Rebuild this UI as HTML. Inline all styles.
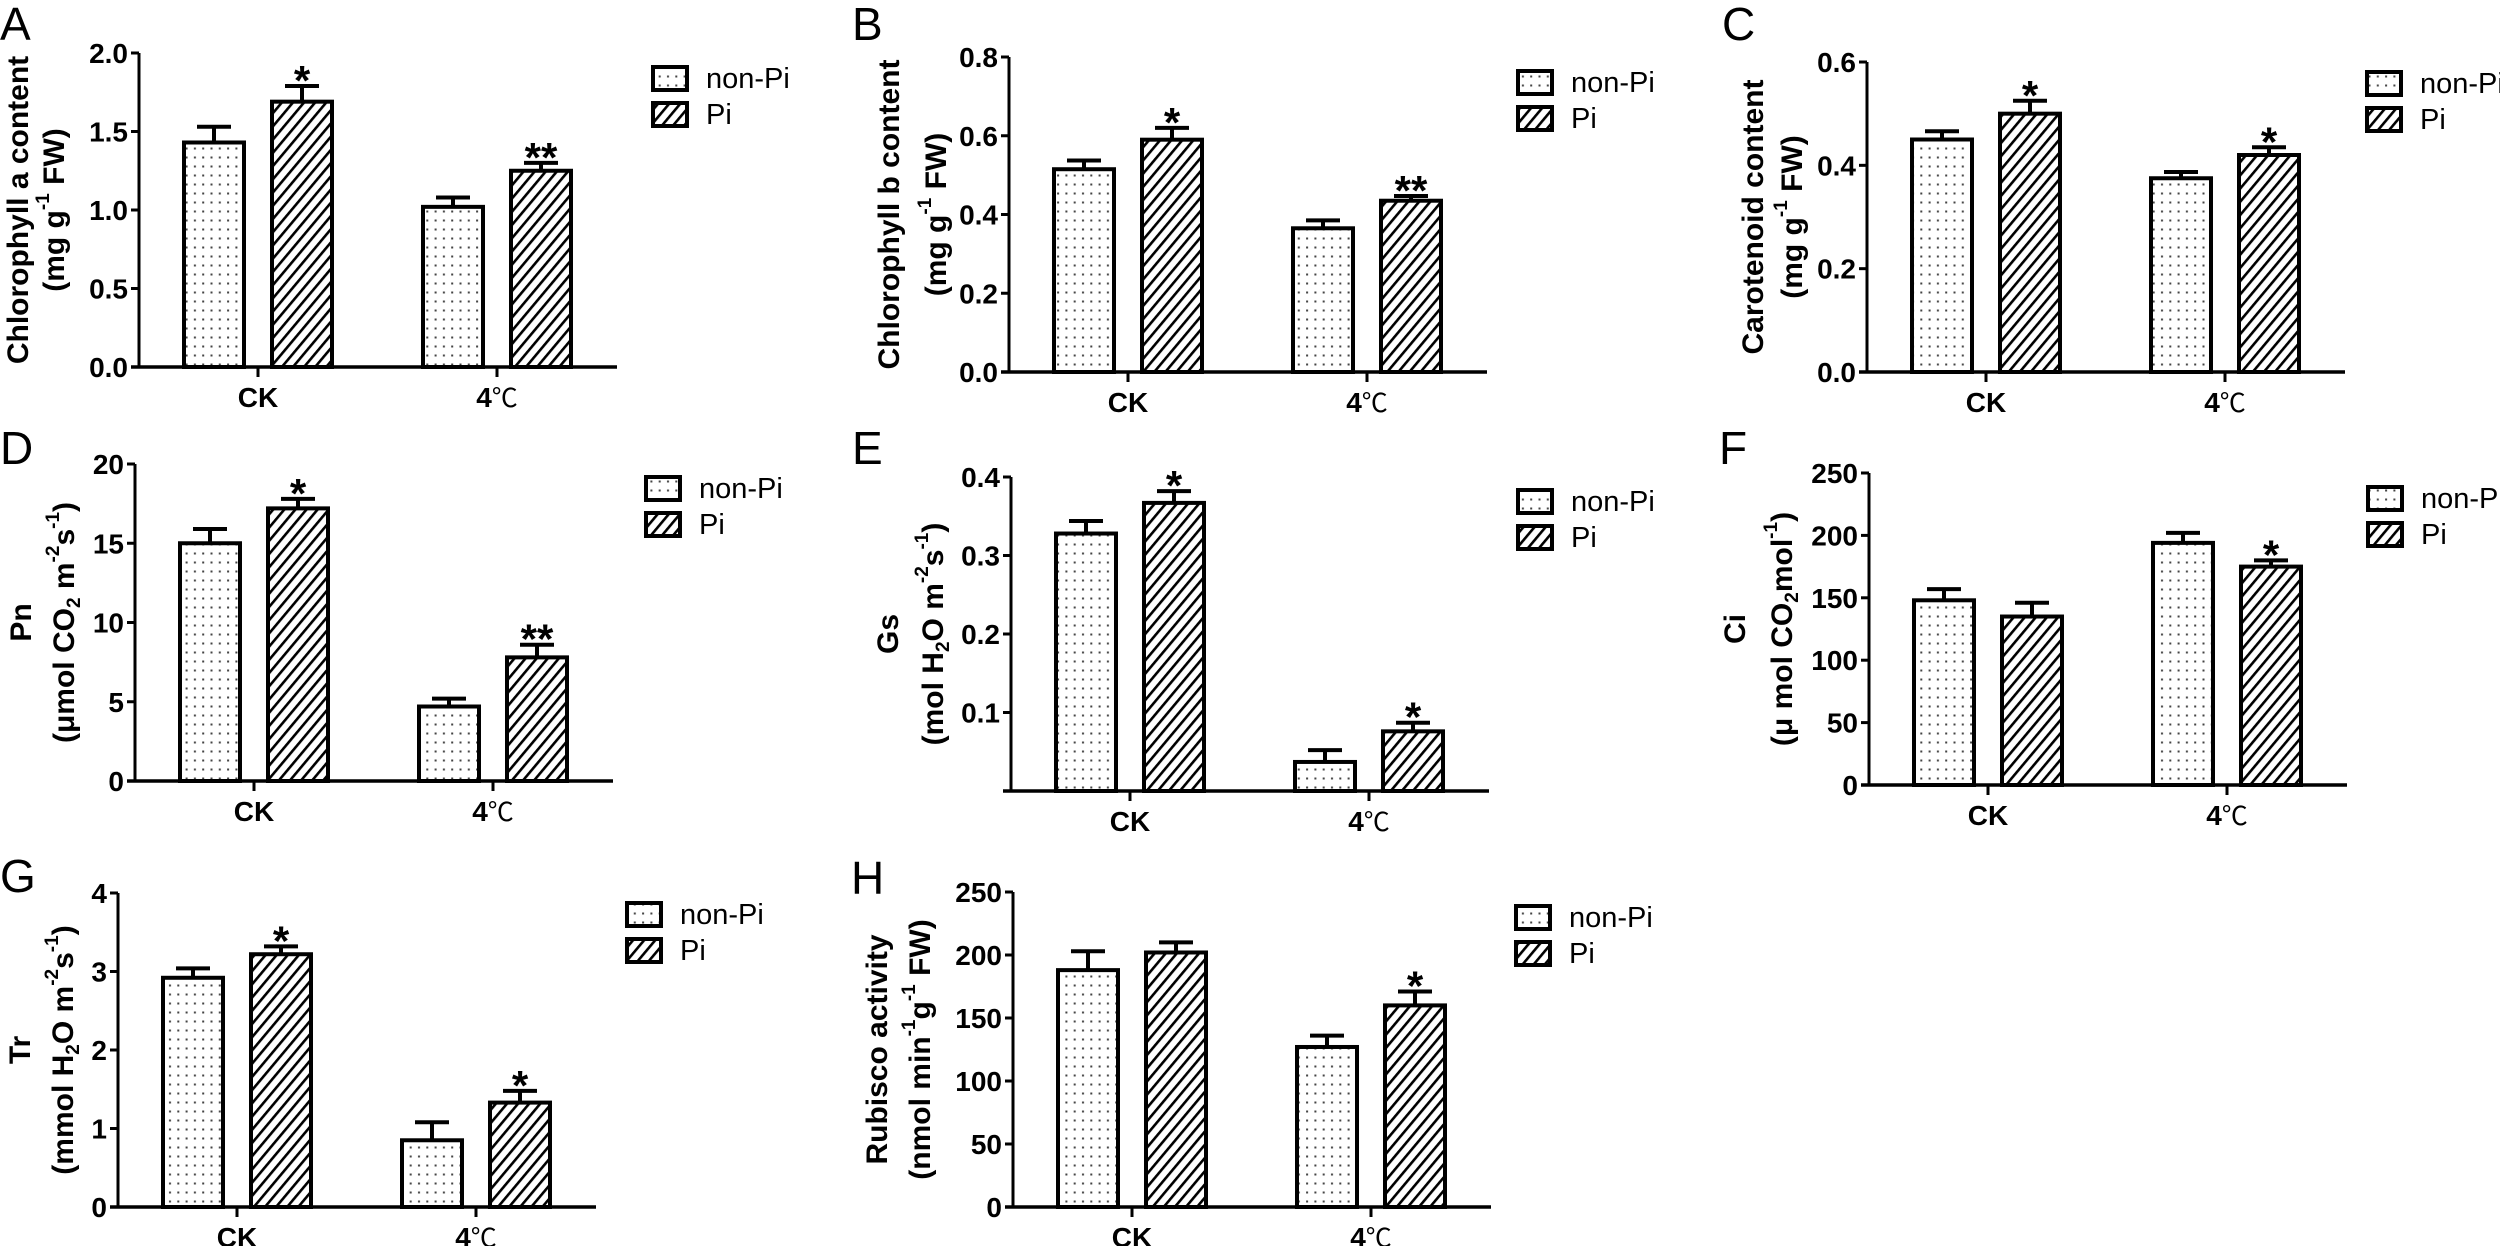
<!DOCTYPE html>
<html><head><meta charset="utf-8">
<style>
html,body{margin:0;padding:0;background:#fff;}
svg{display:block;}
text{font-family:"Liberation Sans","Noto Sans CJK SC",sans-serif;fill:#000;}
</style></head>
<body>
<svg id="fig" width="2500" height="1246" viewBox="0 0 2500 1246" xmlns="http://www.w3.org/2000/svg">
<defs>
<pattern id="dots" patternUnits="userSpaceOnUse" width="8.3" height="9">
<rect x="3" y="3.5" width="2" height="2" fill="#444"/>
</pattern>
<pattern id="hatch" patternUnits="userSpaceOnUse" width="8.5" height="20" patternTransform="rotate(40)">
<rect x="0" y="0" width="2.6" height="20" fill="#000"/>
</pattern>
</defs>
</svg>
<script>
// ---- data ----
const categories = ["CK", "4℃"];
const seriesNames = ["non-Pi", "Pi"];
const chlAValues = [[1.43, 1.02], [1.69, 1.25]];
const chlAErrors = [[0.10, 0.06], [0.10, 0.05]];
const chlASig = [["", ""], ["*", "**"]];
const chlBValues = [[0.515, 0.365], [0.59, 0.435]];
const chlBErrors = [[0.022, 0.02], [0.03, 0.012]];
const chlBSig = [["", ""], ["*", "**"]];
const carValues = [[0.45, 0.375], [0.50, 0.42]];
const carErrors = [[0.016, 0.012], [0.025, 0.015]];
const carSig = [["", ""], ["*", "*"]];
const pnValues = [[15.0, 4.7], [17.2, 7.8]];
const pnErrors = [[0.9, 0.5], [0.6, 0.8]];
const pnSig = [["", ""], ["*", "**"]];
const gsValues = [[0.328, 0.037], [0.367, 0.076]];
const gsErrors = [[0.016, 0.015], [0.015, 0.011]];
const gsSig = [["", ""], ["*", "*"]];
const ciValues = [[148, 194], [135, 175]];
const ciErrors = [[9, 8], [11, 5]];
const ciSig = [["", ""], ["", "*"]];
const trValues = [[2.92, 0.85], [3.22, 1.33]];
const trErrors = [[0.12, 0.23], [0.10, 0.15]];
const trSig = [["", ""], ["*", "*"]];
const rubValues = [[188, 127], [202, 160]];
const rubErrors = [[15, 9], [8, 11]];
const rubSig = [["", ""], ["", "*"]];
const ticksA = [0, 0.5, 1.0, 1.5, 2.0];
const tickLabelsA = ["0.0", "0.5", "1.0", "1.5", "2.0"];
const ticksB = [0, 0.2, 0.4, 0.6, 0.8];
const tickLabelsB = ["0.0", "0.2", "0.4", "0.6", "0.8"];
const ticksC = [0, 0.2, 0.4, 0.6];
const tickLabelsC = ["0.0", "0.2", "0.4", "0.6"];
const ticksD = [0, 5, 10, 15, 20];
const tickLabelsD = ["0", "5", "10", "15", "20"];
const ticksE = [0.1, 0.2, 0.3, 0.4];
const tickLabelsE = ["0.1", "0.2", "0.3", "0.4"];
const ticksF = [0, 50, 100, 150, 200, 250];
const tickLabelsF = ["0", "50", "100", "150", "200", "250"];
const ticksG = [0, 1, 2, 3, 4];
const tickLabelsG = ["0", "1", "2", "3", "4"];
const ticksH = [0, 50, 100, 150, 200, 250];
const tickLabelsH = ["0", "50", "100", "150", "200", "250"];

const NS = "http://www.w3.org/2000/svg";
const svg = document.getElementById("fig");
function mk(tag, attrs, parent) {
  const e = document.createElementNS(NS, tag);
  for (const k in attrs) e.setAttribute(k, attrs[k]);
  (parent || svg).appendChild(e);
  return e;
}

const panels = [
  {id:"a", letter:"A", lx:0, ly:40, ax:139, yTop:53, y0:367, max:2.0, ticks:ticksA, tl:tickLabelsA, vals:chlAValues, errs:chlAErrors, sig:chlASig, legX:653, legY:67, t1x:18, t2x:54,
   t1:[["Chlorophyll a content"]], t2:[["(mg g"],["-1","sup"],[" FW)"]]},
  {id:"b", letter:"B", lx:852, ly:40, ax:1009, yTop:57, y0:372, max:0.8, ticks:ticksB, tl:tickLabelsB, vals:chlBValues, errs:chlBErrors, sig:chlBSig, legX:1518, legY:71, t1x:889, t2x:936,
   t1:[["Chlorophyll b content"]], t2:[["(mg g"],["-1","sup"],[" FW)"]]},
  {id:"c", letter:"C", lx:1722, ly:40, ax:1867, yTop:62, y0:372, max:0.6, ticks:ticksC, tl:tickLabelsC, vals:carValues, errs:carErrors, sig:carSig, legX:2367, legY:72, t1x:1753, t2x:1792,
   t1:[["Carotenoid content"]], t2:[["(mg g"],["-1","sup"],[" FW)"]]},
  {id:"d", letter:"D", lx:0, ly:464, ax:135, yTop:464, y0:781, max:20, ticks:ticksD, tl:tickLabelsD, vals:pnValues, errs:pnErrors, sig:pnSig, legX:646, legY:477, t1x:21, t2x:64,
   t1:[["Pn"]], t2:[["(μmol CO"],["2","sub"],[" m"],["-2","sup"],["s"],["-1","sup"],[")"]]},
  {id:"e", letter:"E", lx:852, ly:464, ax:1011, yTop:477, y0:791, max:0.4, ticks:ticksE, tl:tickLabelsE, vals:gsValues, errs:gsErrors, sig:gsSig, legX:1518, legY:490, t1x:888, t2x:933,
   t1:[["Gs"]], t2:[["(mol H"],["2","sub"],["O m"],["-2","sup"],["s"],["-1","sup"],[")"]]},
  {id:"f", letter:"F", lx:1719, ly:464, ax:1869, yTop:473, y0:785, max:250, ticks:ticksF, tl:tickLabelsF, vals:ciValues, errs:ciErrors, sig:ciSig, legX:2368, legY:487, t1x:1735, t2x:1782,
   t1:[["Ci"]], t2:[["(μ mol CO"],["2","sub"],["mol"],["-1","sup"],[")"]]},
  {id:"g", letter:"G", lx:0, ly:892, ax:118, yTop:893, y0:1207, max:4, ticks:ticksG, tl:tickLabelsG, vals:trValues, errs:trErrors, sig:trSig, legX:627, legY:903, t1x:20, t2x:63,
   t1:[["Tr"]], t2:[["(mmol H"],["2","sub"],["O m"],["-2","sup"],["s"],["-1","sup"],[")"]]},
  {id:"h", letter:"H", lx:851, ly:894, ax:1013, yTop:892, y0:1207, max:250, ticks:ticksH, tl:tickLabelsH, vals:rubValues, errs:rubErrors, sig:rubSig, legX:1516, legY:906, t1x:877, t2x:920,
   t1:[["Rubisco activity"]], t2:[["(nmol  min"],["-1","sup"],["g"],["-1","sup"],[" FW)"]]}
];

function addTitle(g, x, cy, parts) {
  const t = mk("text", {transform:"translate(" + x + "," + cy + ") rotate(-90)", "text-anchor":"middle", "dominant-baseline":"central", "font-size":"30", "font-weight":"bold"}, g);
  
  
  parts.forEach(p => {
    const s = mk("tspan", {}, t);
    s.textContent = p[0];
    if (p[1] === "sup") { s.setAttribute("font-size", "19"); s.setAttribute("baseline-shift", "super"); }
    if (p[1] === "sub") { s.setAttribute("font-size", "19"); s.setAttribute("baseline-shift", "sub"); }
  });
}

panels.forEach(p => {
  const g = mk("g", {});
  
  
  const yS = v => p.y0 - (v / p.max) * (p.y0 - p.yTop);
  const xEnd = p.ax + 478;
  const catX = i => p.ax + 119 + i * 239;
  const barOff = s => (s === 0 ? -44 : 44);
  const barW = 60;

  const L = mk("text", {x:p.lx, y:p.ly, "font-size":"46"}, g);
  L.textContent = p.letter;
  
  

  p.vals.forEach((series, s) => {
    series.forEach((v, i) => {
      const cx = catX(i) + barOff(s);
      const top = yS(v);
      const r = mk("rect", {x:cx - barW/2, y:top, width:barW, height:p.y0 - top, fill:s === 0 ? "url(#dots)" : "url(#hatch)", stroke:"#000", "stroke-width":"4"}, g);
      
      
      const et = yS(v + p.errs[s][i]);
      const eb = mk("path", {d:"M" + cx + " " + top + " V" + et + " M" + (cx - 17) + " " + et + " H" + (cx + 17), stroke:"#000", "stroke-width":"4", fill:"none"}, g);
      
      
      if (p.sig[s][i]) {
        const st = mk("text", {x:cx, y:et + 9, "text-anchor":"middle", "font-size":"42", "font-weight":"bold"}, g);
        st.textContent = p.sig[s][i];
        
        
      }
    });
  });

  const ya = mk("path", {d:"M" + p.ax + " " + p.yTop + " V" + p.y0, stroke:"#000", "stroke-width":"3", fill:"none"}, g);
  
  
  const xa = mk("path", {d:"M" + (p.ax - 8) + " " + p.y0 + " H" + xEnd, stroke:"#000", "stroke-width":"3.5", fill:"none"}, g);
  
  
  p.ticks.forEach((t, k) => {
    const y = yS(t);
    const tk = mk("path", {d:"M" + (p.ax - 8) + " " + y + " H" + p.ax, stroke:"#000", "stroke-width":"3", fill:"none"}, g);
    
    
    const lb = mk("text", {x:p.ax - 11, y:y + 10, "text-anchor":"end", "font-size":"28", "font-weight":"bold"}, g);
    lb.textContent = p.tl[k];
    
    
  });
  categories.forEach((c, i) => {
    const x = catX(i);
    const tk = mk("path", {d:"M" + x + " " + p.y0 + " V" + (p.y0 + 10), stroke:"#000", "stroke-width":"3", fill:"none"}, g);
    
    
    const lb = mk("text", {x:x, y:p.y0 + 40, "text-anchor":"middle", "font-size":"28", "font-weight":"bold"}, g);
    
    
    if (c === "4℃") {
      const a = mk("tspan", {}, lb); a.textContent = "4";
      const b = mk("tspan", {"font-weight":"normal", "font-family":"'Noto Sans CJK SC', sans-serif", "font-size":"26"}, lb); b.textContent = "℃";
    } else lb.textContent = c;
  });

  const cy = (p.yTop + p.y0) / 2;
  addTitle(g, p.t1x, cy, p.t1);
  addTitle(g, p.t2x, cy, p.t2);

  seriesNames.forEach((n, s) => {
    const y = p.legY + s * 36;
    const lg = mk("g", {}, g);
    
    
    mk("rect", {x:p.legX, y:y, width:34, height:23, fill:s === 0 ? "url(#dots)" : "url(#hatch)", stroke:"#000", "stroke-width":"4"}, lg);
    const t = mk("text", {x:p.legX + 53, y:y + 21, "font-size":"29"}, lg);
    t.textContent = n;
  });
});
</script>
</body></html>
